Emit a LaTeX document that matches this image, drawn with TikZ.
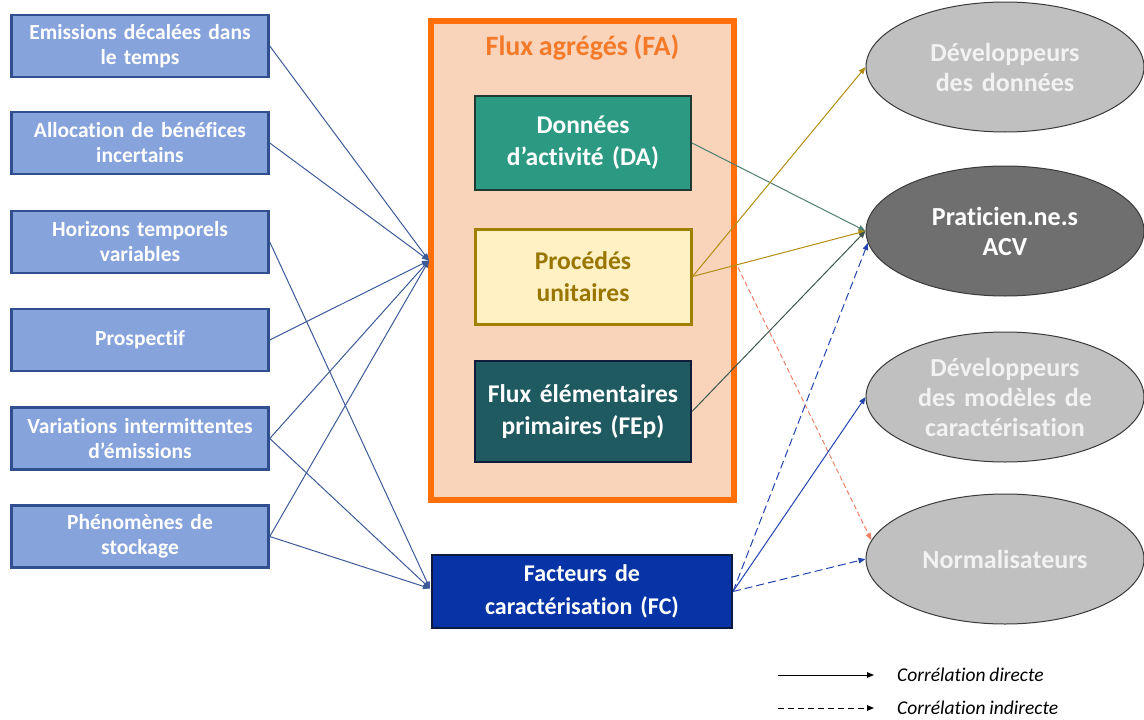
\documentclass[tikz,border=0pt]{standalone}
\usepackage{fontspec}
\setmainfont{Carlito}[Ligatures=NoCommon]
\usetikzlibrary{shapes.geometric,arrows.meta,calc}

\definecolor{issuefill}{HTML}{86A3DC}
\definecolor{issueline}{HTML}{2F4F8F}
\definecolor{faorange}{HTML}{FF6F0A}
\definecolor{fatitle}{HTML}{F47A2A}
\definecolor{fafill}{HTML}{FAD4BA}
\definecolor{dafill}{HTML}{2C9A82}
\definecolor{daline}{HTML}{1E3A32}
\definecolor{pufill}{HTML}{FFF1C4}
\definecolor{puline}{HTML}{A08000}
\definecolor{putext}{HTML}{987600}
\definecolor{fepfill}{HTML}{1F5A60}
\definecolor{fepline}{HTML}{101C3A}
\definecolor{fcfill}{HTML}{0634A6}
\definecolor{fcline}{HTML}{0E1A40}
\definecolor{lightactor}{HTML}{C0C0C0}
\definecolor{darkactor}{HTML}{6F6F6F}
\definecolor{actorline}{HTML}{3A3A3A}
\definecolor{leftlink}{HTML}{3D5A98}
\definecolor{dalink}{HTML}{4F7F72}
\definecolor{pulink}{HTML}{B38D12}
\definecolor{feplink}{HTML}{3C564E}
\definecolor{fclink}{HTML}{2444B0}
\definecolor{falink}{HTML}{F08068}

% tight interword space, as in the slide font
\newcommand\tightspace{\spaceskip=0.2em\relax}

\begin{document}
\begin{tikzpicture}[x=1pt,y=-1pt,
  issue/.style={draw=issueline, fill=issuefill, line width=2.5pt,
    minimum width=257pt, minimum height=62pt, inner sep=0pt,
    text width=250pt, align=center, text=white,
    font=\bfseries\fontsize{21.5}{25}\selectfont\tightspace},
  inner/.style={line width=2pt, minimum width=216pt, inner sep=0pt,
    text width=210pt, align=center,
    font=\bfseries\fontsize{25.5}{32}\selectfont\tightspace},
  actor/.style={ellipse, draw=actorline, line width=1pt,
    minimum width=278pt, minimum height=130pt, inner sep=0pt,
    text width=185pt, align=center, text=white!95!black,
    font=\bfseries\fontsize{26}{30}\selectfont\tightspace},
  link/.style={line width=1pt, -{Triangle[length=7pt,width=5.5pt]}},
  legendtext/.style={anchor=west, inner sep=0pt, font=\itshape\fontsize{19.5}{22}\selectfont\tightspace}
]
\useasboundingbox (0,0) rectangle (1144,720);

% Aggregated flows frame
\node[draw=faorange, fill=fafill, line width=6pt, minimum width=303pt,
      minimum height=479pt, inner sep=0pt] (FA) at (582.5,260.5) {};
\node[text=fatitle, font=\bfseries\fontsize{28}{32}\selectfont\tightspace] (FAt) at (582.5,47) {Flux agrégés (FA)};

\node[inner, draw=daline, fill=dafill, text=white, minimum height=94pt] (DA) at (583,143) {Données\\d’activité (DA)};
\node[inner, draw=puline, fill=pufill, text=putext, line width=3pt, minimum height=95pt] (PU) at (583,276.5) {Procédés\\unitaires};
\node[inner, draw=fepline, fill=fepfill, text=white, minimum height=101pt] (FEp) at (583,411.5) {Flux élémentaires\\primaires (FEp)};

% Characterisation factors
\node[inner, draw=fcline, fill=fcfill, text=white, minimum width=300pt, text width=290pt, minimum height=73pt,
      font=\bfseries\fontsize{24}{33}\selectfont\tightspace] (FC) at (582,591.5) {Facteurs de\\caractérisation (FC)};

% Temporal issues
\node[issue] (I1) at (140,46) {Emissions décalées dans\\le temps};
\node[issue] (I2) at (140,143) {Allocation de bénéfices\\incertains};
\node[issue] (I3) at (140,242) {Horizons temporels\\variables};
\node[issue] (I4) at (140,340) {Prospectif};
\node[issue] (I5) at (140,438.5) {Variations intermittentes\\d’émissions};
\node[issue] (I6) at (140,536.5) {Phénomènes de\\stockage};

% Actors
\node[actor, fill=lightactor] (A1) at (1005,67) {Développeurs\\des données};
\node[actor, fill=darkactor, text=white] (A2) at (1005,231) {Praticien.ne.s\\ACV};
\node[actor, fill=lightactor] (A3) at (1005,397) {Développeurs\\des modèles de\\caractérisation};
\node[actor, fill=lightactor] (A4) at (1005,559) {Normalisateurs};

% Issue links
\coordinate (FAin) at ($(FA.west)+(1,0)$);
\coordinate (FCin) at ($(FC.west)+(-1,-3)$);
\draw[link, leftlink] (I1.east) -- (FAin);
\draw[link, leftlink] (I2.east) -- (FAin);
\draw[link, leftlink] (I4.east) -- (FAin);
\draw[link, leftlink] (I5.east) -- (FAin);
\draw[link, leftlink] (I6.east) -- (FAin);
\draw[link, leftlink] (I3.east) -- (FCin);
\draw[link, leftlink] (I5.east) -- (FCin);
\draw[link, leftlink] (I6.east) -- (FCin);

% Links to actors
\coordinate (FAout) at ($(FA.east)+(1,7)$);
\draw[link, dalink] (DA.east) -- (A2.west);
\draw[link, pulink] (PU.east) -- (A1.west);
\draw[link, pulink] (PU.east) -- (A2.west);
\draw[link, feplink] (FEp.east) -- (A2.west);
\draw[link, falink, dashed, dash pattern=on 5pt off 3pt] (FAout) -- (A4.172);
\draw[link, fclink, dashed, dash pattern=on 8pt off 4pt] (FC.east) -- (A2.185);
\draw[link, fclink] (FC.east) -- (A3.west);
\draw[link, fclink, dashed, dash pattern=on 8pt off 4pt] (FC.east) -- (A4.west);

% Legend
\coordinate (L1a) at (778,675);
\coordinate (L1b) at (874,675);
\coordinate (L2a) at (778,708);
\coordinate (L2b) at (874,708);
\draw[link, black] (L1a) -- (L1b);
\draw[link, black, dashed, dash pattern=on 6pt off 4pt] (L2a) -- (L2b);
\node[legendtext] (T1) at (897,675) {Corrélation directe};
\node[legendtext] (T2) at (897,708) {Corrélation indirecte};
\end{tikzpicture}
\end{document}
